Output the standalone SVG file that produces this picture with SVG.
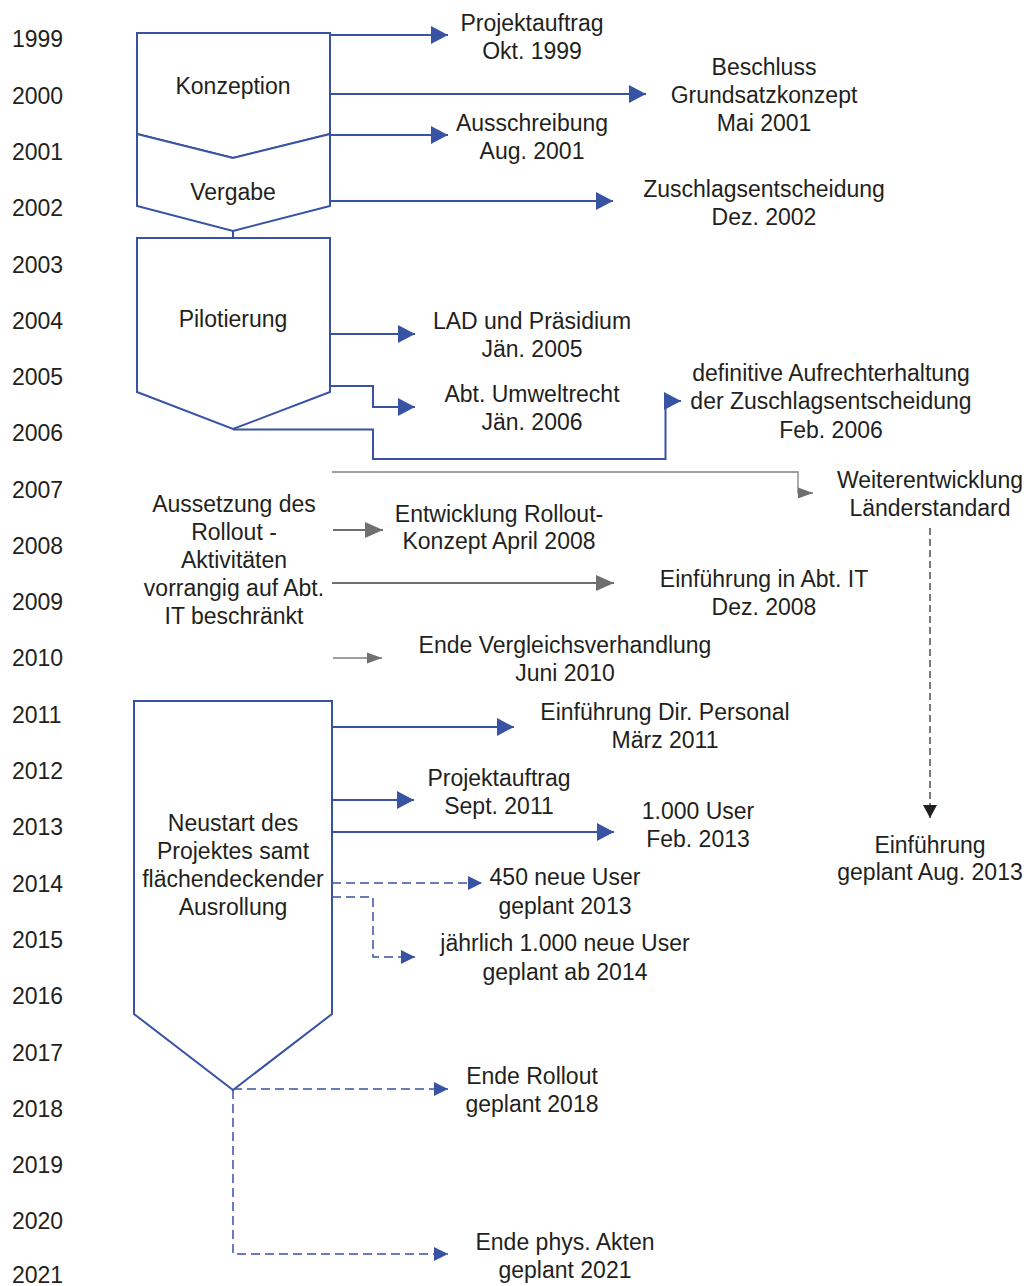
<svg xmlns="http://www.w3.org/2000/svg" width="1033" height="1286" viewBox="0 0 1033 1286">
<style>
text{font-family:"Liberation Sans",Arial,sans-serif;font-size:23px;fill:#231f20}
.c{text-anchor:middle}
.shape{fill:#fff;stroke:#3953a4;stroke-width:2;stroke-linejoin:miter}
.b{fill:none;stroke:#3953a4;stroke-width:2}
.bd{fill:none;stroke:#3953a4;stroke-width:1.5;stroke-dasharray:9,5}
.g{fill:none;stroke:#7f7f7f;stroke-width:1.3}
.gt{fill:none;stroke:#6f6f6f;stroke-width:2.2}
.kd{fill:none;stroke:#231f20;stroke-width:1.2;stroke-dasharray:7,4}
</style>
<defs>
<marker id="ab" markerUnits="userSpaceOnUse" markerWidth="18" markerHeight="18" refX="17" refY="9" orient="auto"><path d="M0,0 L17,9 L0,18 Z" fill="#3953a4"/></marker>
<marker id="abs" markerUnits="userSpaceOnUse" markerWidth="15" markerHeight="15" refX="14" refY="7" orient="auto"><path d="M0,0 L14,7 L0,14 Z" fill="#3953a4"/></marker>
<marker id="ag" markerUnits="userSpaceOnUse" markerWidth="19" markerHeight="16" refX="18" refY="8" orient="auto"><path d="M0,0 L18,8 L0,16 Z" fill="#6f6f6f"/></marker>
<marker id="ags" markerUnits="userSpaceOnUse" markerWidth="15" markerHeight="14" refX="15" refY="7" orient="auto"><path d="M0,1.5 L15,7 L0,12.5 Z" fill="#6f6f6f"/></marker>
<marker id="ak" markerUnits="userSpaceOnUse" markerWidth="14" markerHeight="16" refX="13" refY="7" orient="auto"><path d="M0,0 L13,7 L0,14 Z" fill="#231f20"/></marker>
</defs>
<rect width="1033" height="1286" fill="#fff"/>

<g id="years">
<text x="12" y="47">1999</text>
<text x="12" y="104">2000</text>
<text x="12" y="160">2001</text>
<text x="12" y="216">2002</text>
<text x="12" y="273">2003</text>
<text x="12" y="329">2004</text>
<text x="12" y="385">2005</text>
<text x="12" y="441">2006</text>
<text x="12" y="498">2007</text>
<text x="12" y="554">2008</text>
<text x="12" y="610">2009</text>
<text x="12" y="666">2010</text>
<text x="12" y="723">2011</text>
<text x="12" y="779">2012</text>
<text x="12" y="835">2013</text>
<text x="12" y="892">2014</text>
<text x="12" y="948">2015</text>
<text x="12" y="1004">2016</text>
<text x="12" y="1061">2017</text>
<text x="12" y="1117">2018</text>
<text x="12" y="1173">2019</text>
<text x="12" y="1229">2020</text>
<text x="12" y="1283">2021</text>
</g>

<g id="connectors">
<path class="b" d="M330,35 H448" marker-end="url(#ab)"/>
<path class="b" d="M330,94 H646" marker-end="url(#ab)"/>
<path class="b" d="M330,135 H448" marker-end="url(#ab)"/>
<path class="b" d="M330,201 H613" marker-end="url(#ab)"/>
<path class="b" d="M233,231 V238"/>
<path class="b" d="M330,334 H415" marker-end="url(#ab)"/>
<path class="b" d="M330,386 H373 V407 H415" marker-end="url(#ab)"/>
<path class="b" d="M233,429.5 H373 V459 H665.5 V401 H681" marker-end="url(#ab)"/>
<path class="g" d="M332,472 H798 V493 H813" marker-end="url(#ags)"/>
<path class="gt" d="M333,530 H383" marker-end="url(#ag)"/>
<path class="gt" d="M332,583 H614" marker-end="url(#ag)"/>
<path class="g" d="M333,658 H382" marker-end="url(#ags)"/>
<path class="kd" d="M930,528 V818" marker-end="url(#ak)"/>
<path class="b" d="M332,727 H514" marker-end="url(#ab)"/>
<path class="b" d="M332,800 H414" marker-end="url(#ab)"/>
<path class="b" d="M332,832 H614" marker-end="url(#ab)"/>
<path class="bd" d="M332,883 H482" marker-end="url(#abs)"/>
<path class="bd" d="M332,897 H373 V957 H415" marker-end="url(#abs)"/>
<path class="bd" d="M233,1089 H448" marker-end="url(#abs)"/>
<path class="bd" d="M233,1090 V1254 H448" marker-end="url(#abs)"/>
</g>

<g id="konzeption">
<polygon class="shape" points="137,33 330,33 330,134 233,158 137,134"/>
<text class="c" x="233" y="94">Konzeption</text>
</g>
<g id="vergabe">
<polygon class="shape" points="137,134 233,158 330,134 330,206 233,231 137,206"/>
<text class="c" x="233" y="200">Vergabe</text>
</g>
<g id="pilotierung">
<polygon class="shape" points="137,238 330,238 330,392 233,429 137,392"/>
<text class="c" x="233" y="327">Pilotierung</text>
</g>
<g id="neustart">
<polygon class="shape" points="134,701 332,701 332,1014 233,1090 134,1014"/>
<text class="c" x="233" y="831">Neustart des</text>
<text class="c" x="233" y="859">Projektes samt</text>
<text class="c" x="233" y="887">flächendeckender</text>
<text class="c" x="233" y="915">Ausrollung</text>
</g>
<g id="aussetzung">
<text class="c" x="234" y="512">Aussetzung des</text>
<text class="c" x="234" y="540">Rollout -</text>
<text class="c" x="234" y="568">Aktivitäten</text>
<text class="c" x="234" y="596">vorrangig auf Abt.</text>
<text class="c" x="234" y="624">IT beschränkt</text>
</g>

<g id="projektauftrag1999">
<text class="c" x="532" y="31">Projektauftrag</text>
<text class="c" x="532" y="59">Okt. 1999</text>
</g>
<g id="beschluss">
<text class="c" x="764" y="75">Beschluss</text>
<text class="c" x="764" y="103">Grundsatzkonzept</text>
<text class="c" x="764" y="131">Mai 2001</text>
</g>
<g id="ausschreibung">
<text class="c" x="532" y="131">Ausschreibung</text>
<text class="c" x="532" y="159">Aug. 2001</text>
</g>
<g id="zuschlag">
<text class="c" x="764" y="197">Zuschlagsentscheidung</text>
<text class="c" x="764" y="225">Dez. 2002</text>
</g>
<g id="lad">
<text class="c" x="532" y="329">LAD und Präsidium</text>
<text class="c" x="532" y="357">Jän. 2005</text>
</g>
<g id="umweltrecht">
<text class="c" x="532" y="402">Abt. Umweltrecht</text>
<text class="c" x="532" y="430">Jän. 2006</text>
</g>
<g id="definitive">
<text class="c" x="831" y="381">definitive Aufrechterhaltung</text>
<text class="c" x="831" y="409">der Zuschlagsentscheidung</text>
<text class="c" x="831" y="438">Feb. 2006</text>
</g>
<g id="weiterentwicklung">
<text class="c" x="930" y="488">Weiterentwicklung</text>
<text class="c" x="930" y="516">Länderstandard</text>
</g>
<g id="entwicklung">
<text class="c" x="499" y="522">Entwicklung Rollout-</text>
<text class="c" x="499" y="549">Konzept April 2008</text>
</g>
<g id="einfuehrung-it">
<text class="c" x="764" y="587">Einführung in Abt. IT</text>
<text class="c" x="764" y="615">Dez. 2008</text>
</g>
<g id="vergleich">
<text class="c" x="565" y="653">Ende Vergleichsverhandlung</text>
<text class="c" x="565" y="681">Juni 2010</text>
</g>
<g id="personal">
<text class="c" x="665" y="720">Einführung Dir. Personal</text>
<text class="c" x="665" y="748">März 2011</text>
</g>
<g id="projektauftrag2011">
<text class="c" x="499" y="786">Projektauftrag</text>
<text class="c" x="499" y="814">Sept. 2011</text>
</g>
<g id="user1000">
<text class="c" x="698" y="819">1.000 User</text>
<text class="c" x="698" y="847">Feb. 2013</text>
</g>
<g id="einfuehrung2013">
<text class="c" x="930" y="853">Einführung</text>
<text class="c" x="930" y="880">geplant Aug. 2013</text>
</g>
<g id="user450">
<text class="c" x="565" y="885">450 neue User</text>
<text class="c" x="565" y="914">geplant 2013</text>
</g>
<g id="jaehrlich">
<text class="c" x="565" y="951">jährlich 1.000 neue User</text>
<text class="c" x="565" y="980">geplant ab 2014</text>
</g>
<g id="enderollout">
<text class="c" x="532" y="1084">Ende Rollout</text>
<text class="c" x="532" y="1112">geplant 2018</text>
</g>
<g id="endeakten">
<text class="c" x="565" y="1250">Ende phys. Akten</text>
<text class="c" x="565" y="1278">geplant 2021</text>
</g>
</svg>
